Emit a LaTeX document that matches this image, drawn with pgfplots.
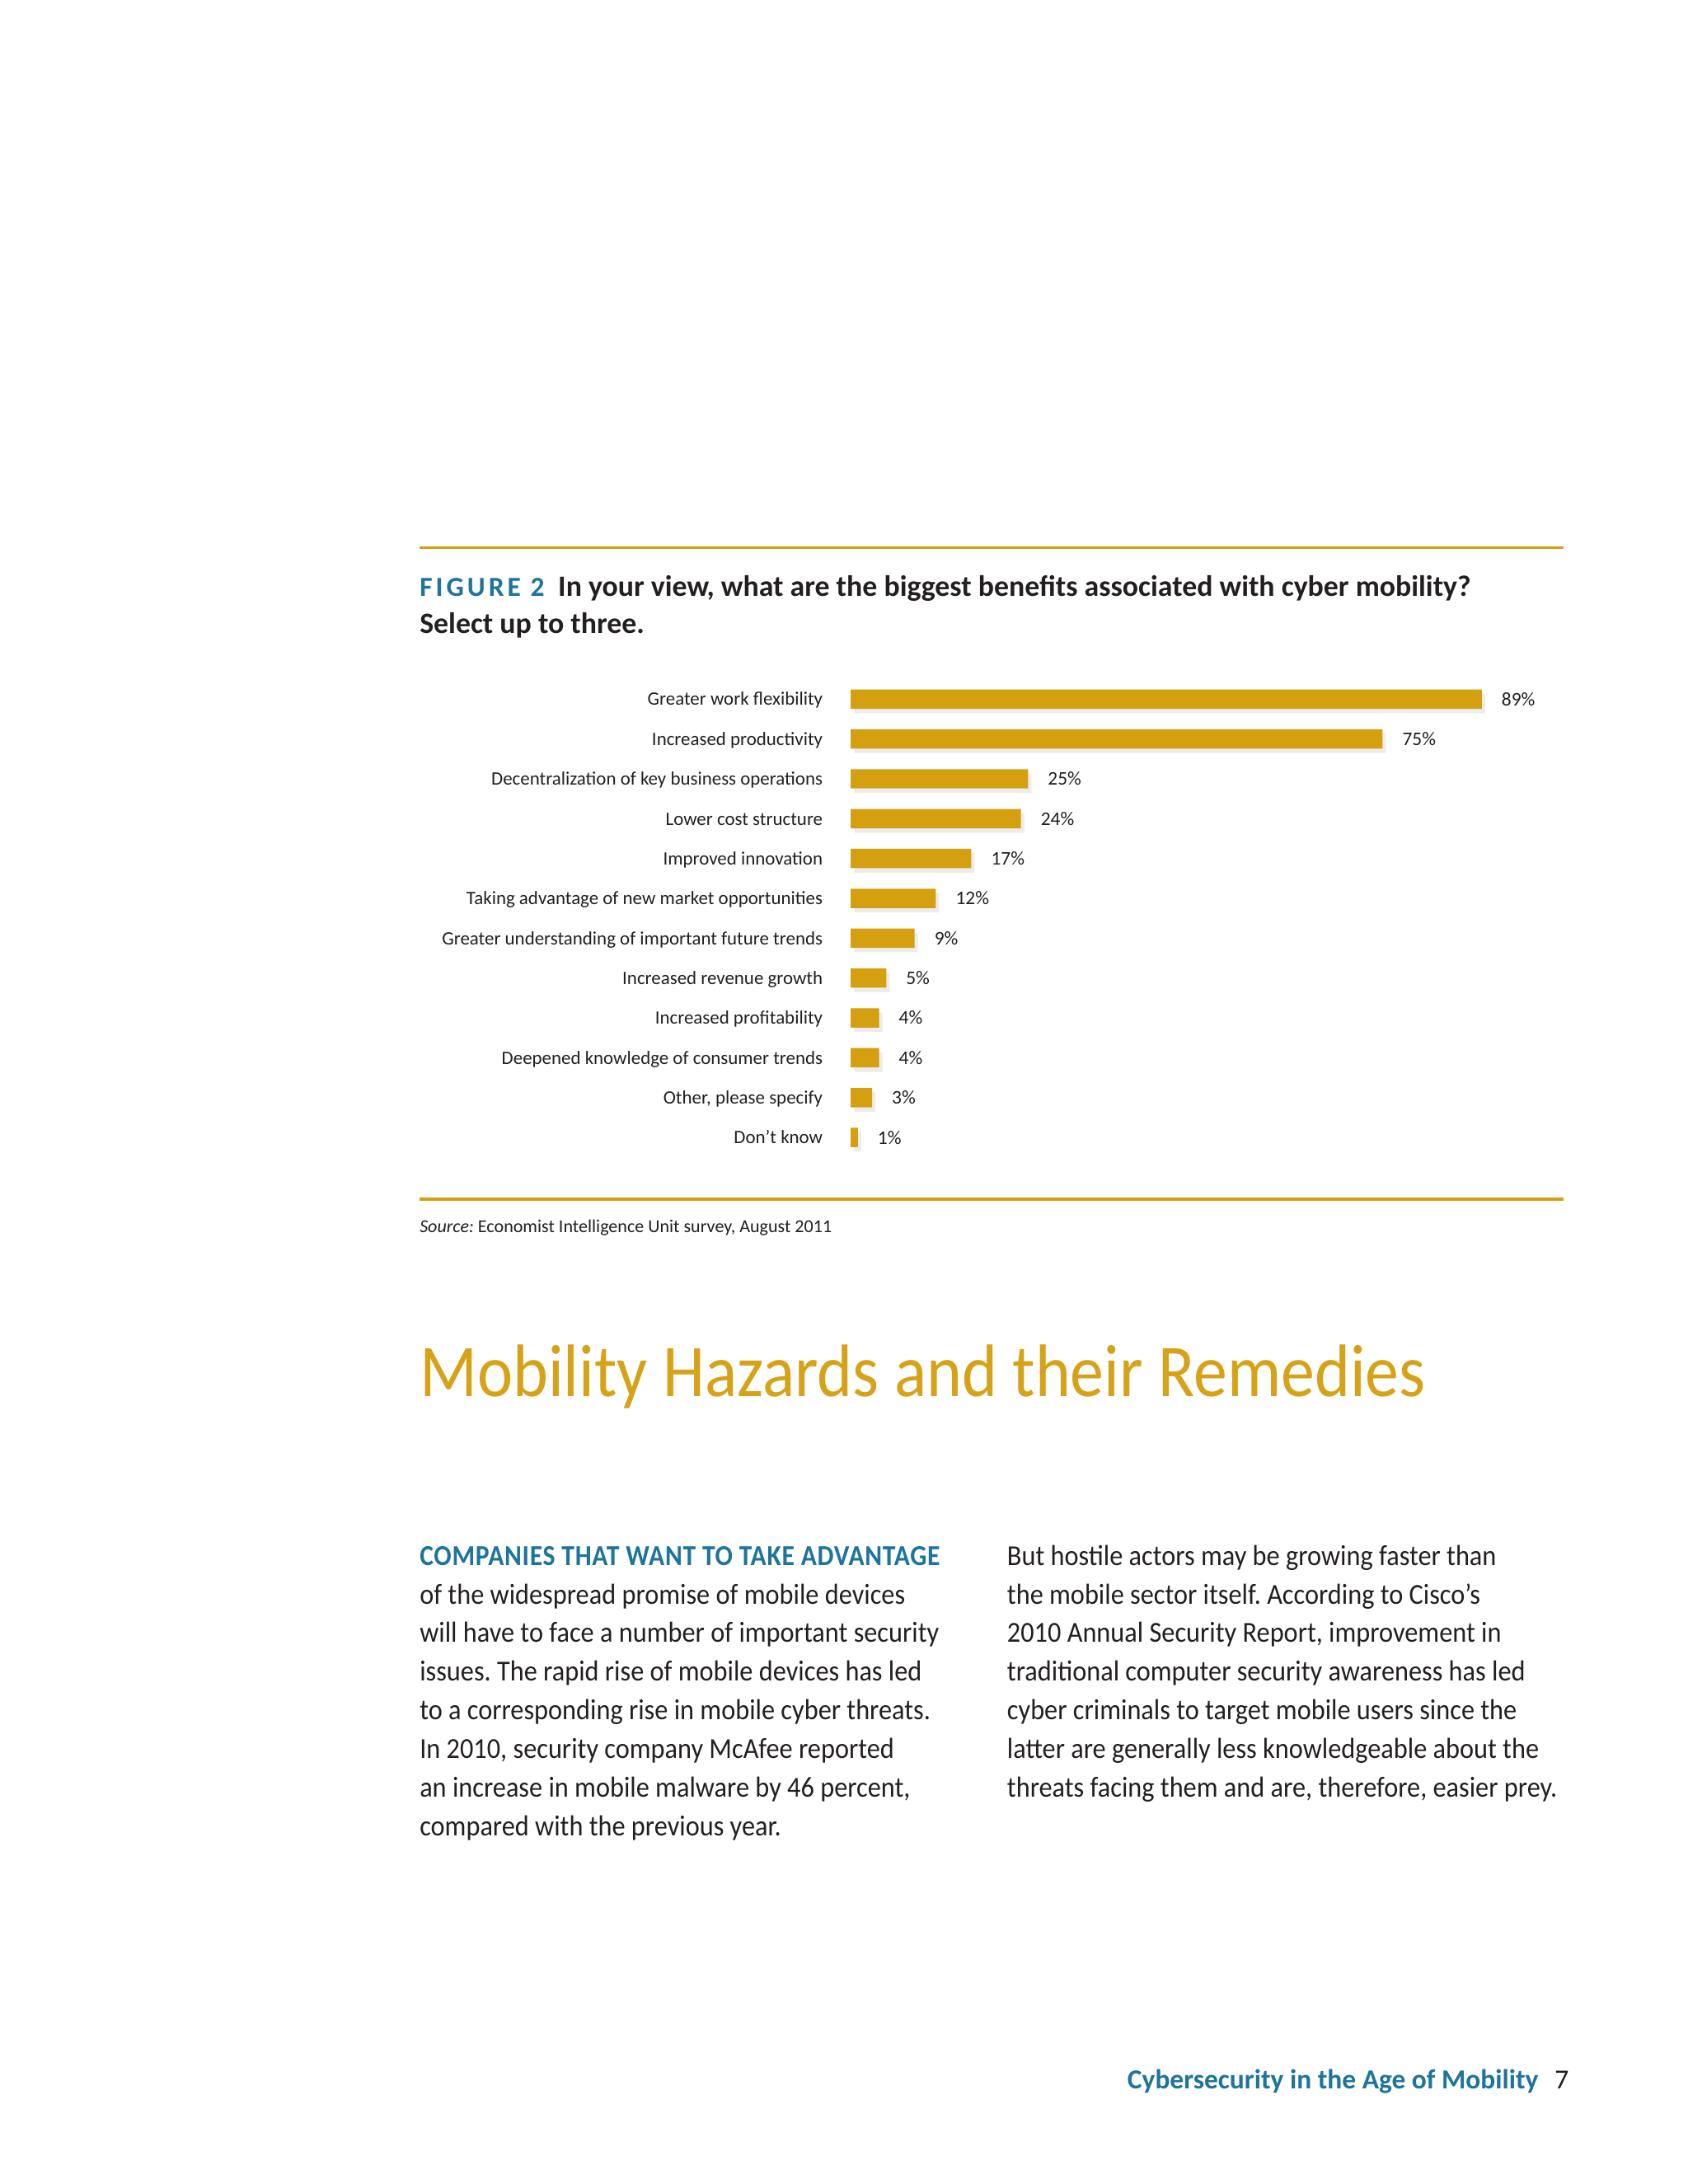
\documentclass[border=0pt]{standalone}
\usepackage{fontspec}
\setmainfont{Carlito}
\newfontfamily\bodyfont[FakeStretch=0.92]{Carlito}
\newfontfamily\leadfont[FakeStretch=0.9, LetterSpace=2]{Carlito}
\newfontfamily\headfont[FakeStretch=0.905]{Carlito}
\usepackage{pgfplots}
\pgfplotsset{compat=1.18}
\usetikzlibrary{shadows}

\definecolor{gold}{RGB}{212,160,16}
\definecolor{headgold}{RGB}{214,162,24}
\definecolor{figblue}{RGB}{30,116,154}
\definecolor{txt}{RGB}{35,31,32}

\begin{document}
\frenchspacing
\begin{tikzpicture}[x=1pt,y=1pt]
% page
\fill[white] (0,0) rectangle (612,-792);
\useasboundingbox (0,0) rectangle (612,-792);

% figure frame
\draw[gold, line width=1pt] (152,-198.5) -- (567,-198.5);
\draw[gold, line width=1pt] (152,-434.8) -- (567,-434.8);

\node[anchor=base west, inner sep=0pt, text=txt, font=\fontsize{10.7}{12}\selectfont\bfseries]
  at (152,-216.1) {{\fontsize{10}{12}\selectfont\color{figblue}\addfontfeatures{LetterSpace=12}FIGURE 2}\hspace{5pt}In your view, what are the biggest benefits associated with cyber mobility?};
\node[anchor=base west, inner sep=0pt, text=txt, font=\fontsize{10.7}{12}\selectfont\bfseries]
  at (152,-229.8) {Select up to three.};

\begin{axis}[
  at={(308.5pt,-246.3pt)}, anchor=north west,
  scale only axis,
  width=257.1pt, height=173.4pt,
  xbar, bar width=7pt,
  xmin=0, xmax=100,
  ymin=-0.5, ymax=11.5,
  y dir=reverse,
  axis line style={draw=none},
  major tick length=0pt,
  xtick=\empty,
  ytick={0,...,11},
  yticklabels={Greater work flexibility, Increased productivity, Decentralization of key business operations, Lower cost structure, Improved innovation, Taking advantage of new market opportunities, Greater understanding of important future trends, Increased revenue growth, Increased profitability, Deepened knowledge of consumer trends, {Other, please specify}, Don’t know},
  yticklabel style={anchor=base east, inner sep=0pt, xshift=-10pt, yshift=-2.3pt, text=txt, font=\fontsize{6.85}{8}\selectfont},
  /pgf/number format/assume math mode=true,
  nodes near coords={\pgfmathprintnumber{\pgfplotspointmeta}\%},
  nodes near coords align=horizontal,
  every node near coord/.append style={anchor=west, inner sep=0pt, xshift=7pt, text=txt, font=\fontsize{7}{8}\selectfont},
]
\addplot[fill=gold, draw=none, drop shadow={opacity=0.15, shadow xshift=1.2pt, shadow yshift=-1.6pt}] coordinates {
(89,0) (75,1) (25,2) (24,3) (17,4) (12,5) (9,6) (5,7) (4,8) (4,9) (3,10) (1,11)
};
\end{axis}

\node[anchor=base west, inner sep=0pt, text=txt, font=\fontsize{6.6}{8}\selectfont]
  at (152,-447) {\textit{Source:} Economist Intelligence Unit survey, August 2011};

% heading
\node[anchor=base west, inner sep=0pt, text=headgold, font=\fontsize{27}{30}\headfont]
  at (152,-506.5) {Mobility Hazards and their Remedies};

% body text, left column
\node[anchor=base west, inner sep=0pt, text=figblue, font=\fontsize{10.5}{14}\leadfont\bfseries]
  at (152,-567.6) {COMPANIES THAT WANT TO TAKE ADVANTAGE};
\foreach \t [count=\i from 1] in {
  {of the widespread promise of mobile devices},
  {will have to face a number of important security},
  {issues. The rapid rise of mobile devices has led},
  {to a corresponding rise in mobile cyber threats.},
  {In 2010, security company McAfee reported},
  {an increase in mobile malware by 46 percent,},
  {compared with the previous year.}}
  \node[anchor=base west, inner sep=0pt, text=txt, font=\fontsize{10.5}{14}\bodyfont]
    at (152,{-567.6-14*\i}) {\t};

% body text, right column
\foreach \t [count=\i from 0] in {
  {But hostile actors may be growing faster than},
  {the mobile sector itself. According to Cisco’s},
  {2010 Annual Security Report, improvement in},
  {traditional computer security awareness has led},
  {cyber criminals to target mobile users since the},
  {latter are generally less knowledgeable about the},
  {threats facing them and are, therefore, easier prey.}}
  \node[anchor=base west, inner sep=0pt, text=txt, font=\fontsize{10.5}{14}\bodyfont]
    at (365,{-567.6-14*\i}) {\t};

% footer
\node[anchor=base east, inner sep=0pt, text=figblue, font=\fontsize{10}{12}\selectfont\bfseries]
  at (558,-757.5) {Cybersecurity in the Age of Mobility};
\node[anchor=base east, inner sep=0pt, text=txt, font=\fontsize{10}{12}\selectfont]
  at (569,-757.5) {7};
\end{tikzpicture}
\end{document}
